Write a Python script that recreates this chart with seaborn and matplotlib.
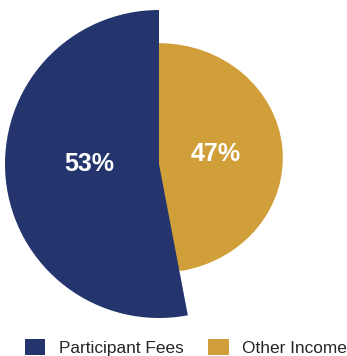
import matplotlib
matplotlib.use("Agg")
import matplotlib.pyplot as plt
from matplotlib.patches import Patch
import seaborn as sns

# Income breakdown
categories = ["Participant Fees", "Other Income"]
shares = [53, 47]
labels = ["53%", "47%"]

palette = sns.color_palette(["#24356E", "#D19F39"])
navy, gold = palette[0], palette[1]

sns.set_theme(style="white")
plt.rcParams["font.family"] = ["Liberation Sans", "DejaVu Sans"]

fig = plt.figure(figsize=(3.47, 3.56), dpi=100)

# Participant Fees wedge (large), drawn above the gold wedge
ax = fig.add_axes([5 / 347, 38 / 356, 308 / 347, 308 / 356])
ax.pie([shares[1], shares[0]], radius=1.0, startangle=90, counterclock=False,
       colors=[(1, 1, 1, 0), navy], wedgeprops=dict(linewidth=0))
ax.set_aspect("auto")
ax.set_xlim(-1, 1)
ax.set_ylim(-1, 1)
ax.axis("off")
ax.set_zorder(2)
ax.patch.set_visible(False)

# Other Income wedge (smaller, slightly wider than tall), 12 o'clock clockwise;
# a same-colour outline closes the seam against the navy wedge
ax2 = fig.add_axes([39 / 347, 87 / 356, 240 / 347, 222 / 356])
ax2.pie([shares[1], shares[0]], radius=1.0, startangle=90, counterclock=False,
        colors=[gold, (1, 1, 1, 0)],
        wedgeprops=dict(linewidth=5.5, edgecolor=(1, 1, 1, 0), joinstyle="round"))
ax2.patches[0].set_edgecolor(gold)
ax2.set_aspect("auto")
ax2.set_xlim(-1, 1)
ax2.set_ylim(-1, 1)
ax2.axis("off")

ax.text(-0.45, 0.0, labels[0], color="white", fontsize=18, fontweight="bold",
        ha="center", va="center")
ax.text(0.37, 0.065, labels[1], color="white", fontsize=18, fontweight="bold",
        ha="center", va="center", zorder=10)

handles = [Patch(facecolor=navy, edgecolor="none"), Patch(facecolor=gold, edgecolor="none")]
fig.legend(handles, categories, loc="lower left", bbox_to_anchor=(25 / 347, 0.0),
           ncol=2, frameon=False, fontsize=12.4, handlelength=1.17, handleheight=1.0,
           handletextpad=0.8, columnspacing=1.44, borderpad=0.0, borderaxespad=0)

fig.savefig("out.png", dpi=100)
